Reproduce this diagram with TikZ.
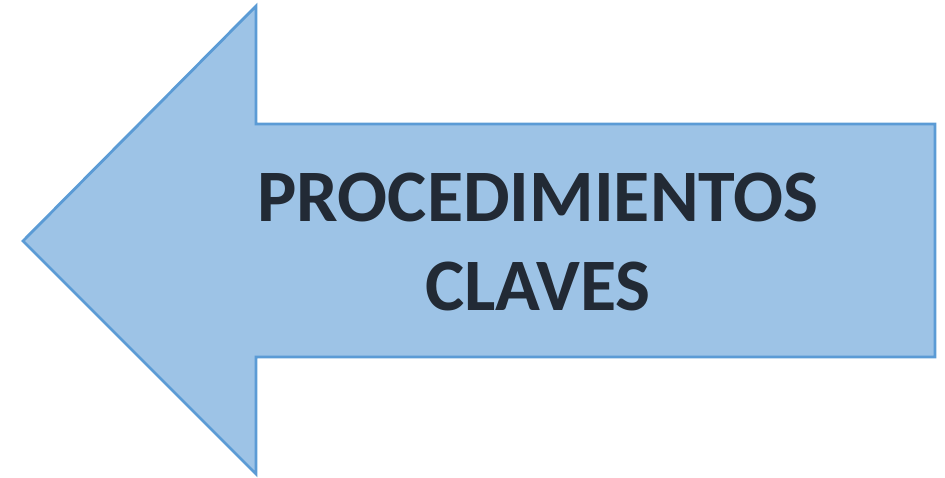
\documentclass[tikz,border=0pt]{standalone}
\usepackage{fontspec}
\setmainfont{Carlito}
\definecolor{arrowfill}{HTML}{9DC3E6}
\definecolor{arrowline}{HTML}{5B9BD5}
\definecolor{textdark}{HTML}{222A35}
\tikzset{
  bigarrow/.style={fill=arrowfill, draw=arrowline, line width=2.8pt, line join=miter},
  label/.style={text=textdark, font=\fontsize{74}{89}\selectfont\bfseries, align=center, inner sep=0pt}
}
\begin{document}
\begin{tikzpicture}[x=1pt,y=-1pt]
\useasboundingbox (0,0) rectangle (945,477);
\coordinate (tip) at (23,241);
\coordinate (htop) at (256,6);
\coordinate (hbot) at (256,474);
\draw[bigarrow] (tip) -- (htop) -- (256,124) -- (935,124) -- (935,357) -- (256,357) -- (hbot) -- cycle;
\node[label] (txt) at (538,242) {PROCEDIMIENTOS\\CLAVES};
\end{tikzpicture}
\end{document}
